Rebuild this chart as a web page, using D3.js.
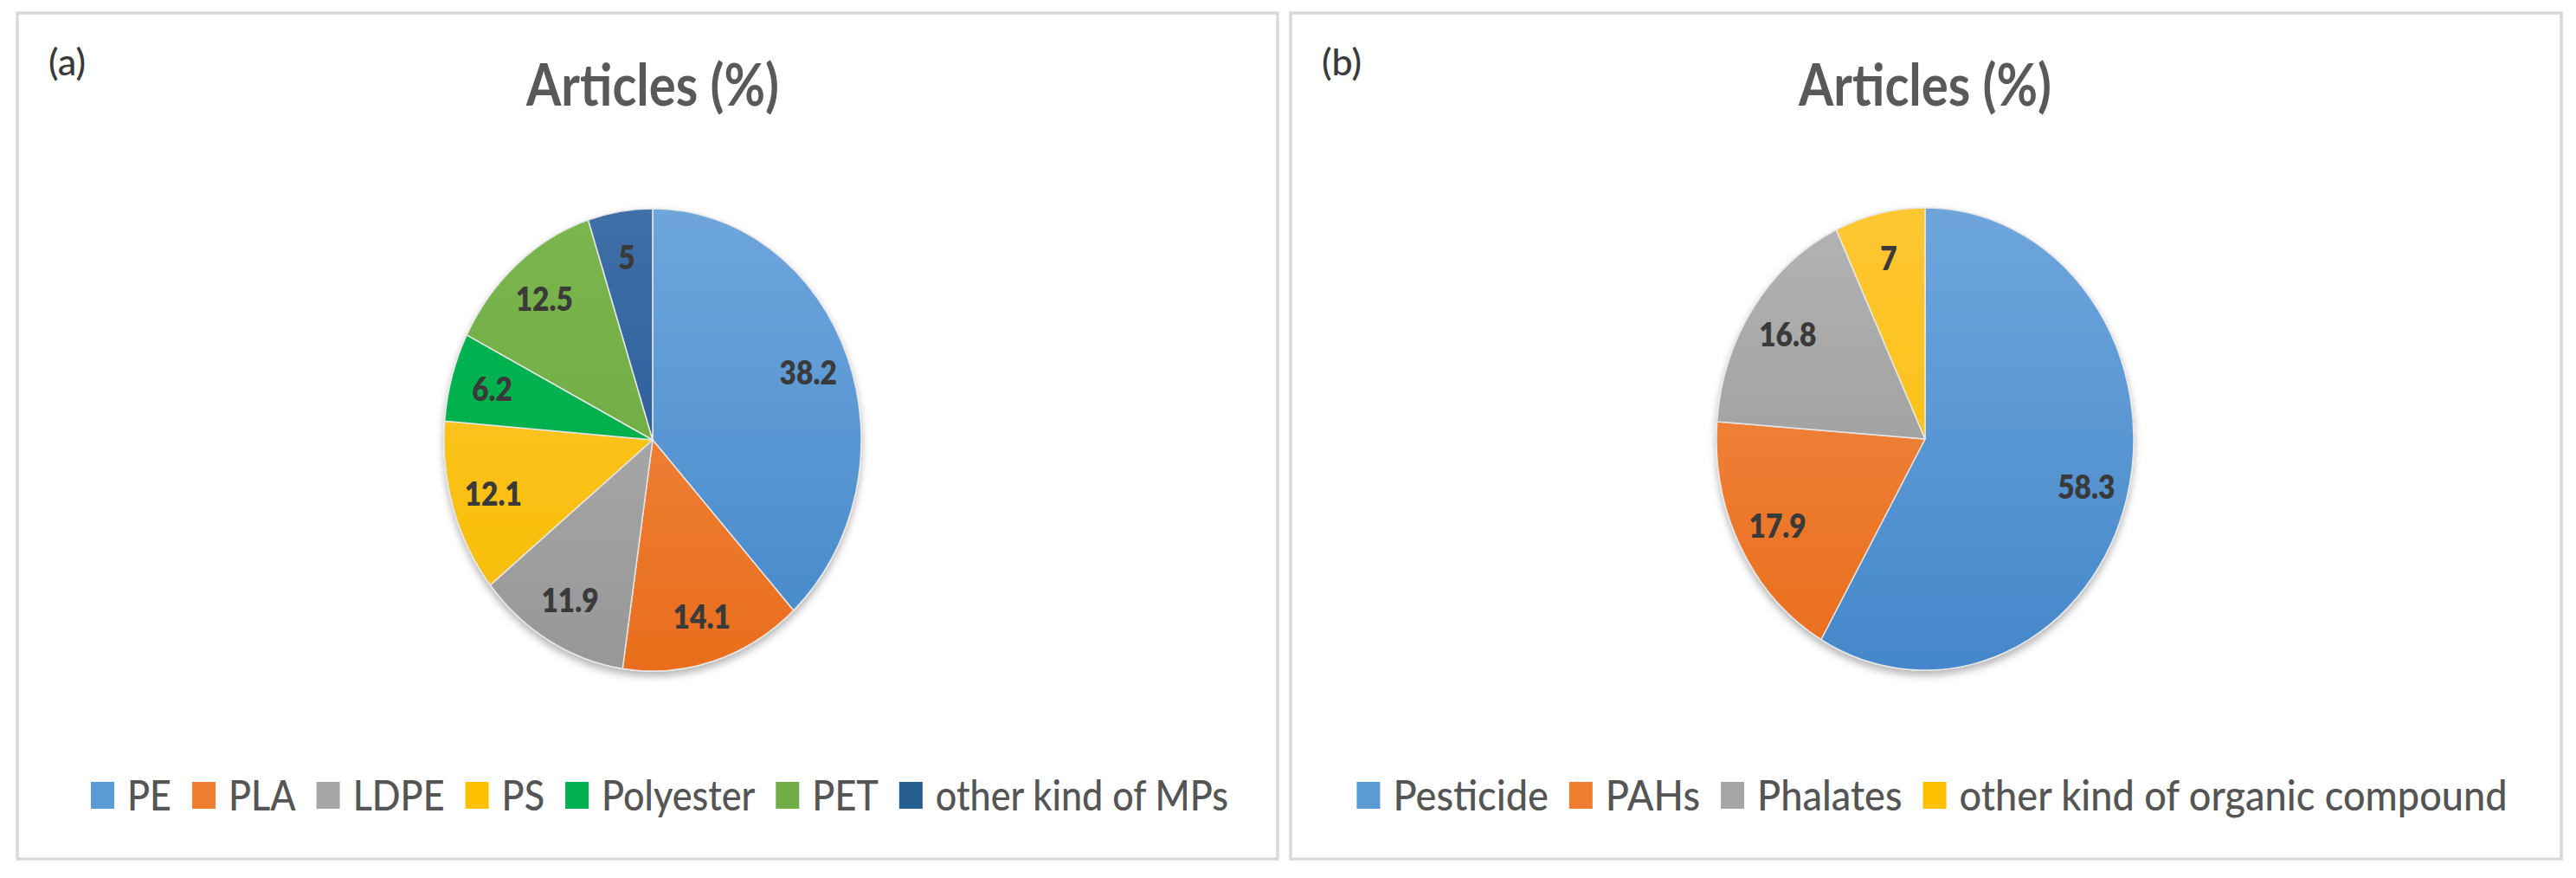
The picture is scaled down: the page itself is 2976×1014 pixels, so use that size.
<!DOCTYPE html>
<html>
<head>
<meta charset="utf-8">
<script src="https://cdn.jsdelivr.net/npm/d3@7"></script>
<style>
  html, body { margin: 0; padding: 0; background: #ffffff; }
  svg { display: block; }
</style>
</head>
<body>
<svg id="chart" width="2976" height="1014"></svg>
<script>
// ---------- data ----------
const titleText = "Articles (%)";
const panelLabels = ["(a)", "(b)"];

const categoriesA = ["PE", "PLA", "LDPE", "PS", "Polyester", "PET", "other kind of MPs"];
const valuesA = [38.2, 14.1, 11.9, 12.1, 6.2, 12.5, 5];

const categoriesB = ["Pesticide", "PAHs", "Phalates", "other kind of organic compound"];
const valuesB = [58.3, 17.9, 16.8, 7];

// colours: [top, bottom] of each slice's vertical gradient, plus legend swatch colour
const coloursA = [
  ["#6EA6DC", "#4487CA", "#5B9BD5"],
  ["#F28F4B", "#E96D1C", "#ED7D31"],
  ["#B4B4B4", "#979797", "#A5A5A5"],
  ["#FFC733", "#F7BC00", "#FFC000"],
  ["#00B550", "#00AB4C", "#00B050"],
  ["#7BB54F", "#68A83B", "#70AD47"],
  ["#3F6FA6", "#1D5495", "#255E91"]
];
const coloursB = [
  ["#6EA6DC", "#4487CA", "#5B9BD5"],
  ["#F28F4B", "#E96D1C", "#ED7D31"],
  ["#B4B4B4", "#919191", "#A5A5A5"],
  ["#FFC733", "#F7BC00", "#FFC000"]
];

// ---------- layout ----------
const panels = [
  { x: 20, y: 15, w: 1456, h: 977, cx: 754, cy: 508, cats: categoriesA, vals: valuesA, cols: coloursA, label: panelLabels[0], id: "a", legSX: 0.88 },
  { x: 1491, y: 15, w: 1468, h: 977, cx: 2224, cy: 507, cats: categoriesB, vals: valuesB, cols: coloursB, label: panelLabels[1], id: "b", legSX: 0.92 }
];
const RX = 241, RY = 267;
const labelFrac = 0.8;
const fontFam = "Lato, 'Open Sans', sans-serif";
const titleSX = 0.88;
const labelSX = 0.88;

const svg = d3.select("#chart");
const defs = svg.append("defs");

const shadow = defs.append("filter").attr("id", "pieShadow")
  .attr("x", "-20%").attr("y", "-20%").attr("width", "140%").attr("height", "140%");
shadow.append("feDropShadow").attr("dx", 0).attr("dy", 5).attr("stdDeviation", 5)
  .attr("flood-color", "#000").attr("flood-opacity", 0.3);

const pie = d3.pie().sort(null).value(d => d);
const arc = d3.arc().innerRadius(0).outerRadius(RY);
const labelArc = d3.arc().innerRadius(RY * labelFrac).outerRadius(RY * labelFrac);

panels.forEach(p => {
  const g = svg.append("g");

  // panel frame
  g.append("rect")
    .attr("x", p.x).attr("y", p.y).attr("width", p.w).attr("height", p.h)
    .attr("fill", "#ffffff").attr("stroke", "#d9d9d9").attr("stroke-width", 3.5);

  // panel label
  g.append("text")
    .attr("x", p.x + 36).attr("y", p.y + 72)
    .attr("font-family", fontFam).attr("font-size", 43).attr("font-weight", 500)
    .attr("fill", "#3a3a3a")
    .text(p.label);

  // title
  g.append("text")
    .attr("transform", `translate(${p.cx},122) scale(${titleSX},1)`)
    .attr("text-anchor", "middle")
    .attr("font-family", fontFam).attr("font-size", 66).attr("font-weight", 700)
    .attr("fill", "#595959")
    .text(titleText);

  // gradients
  p.cols.forEach((c, i) => {
    const lg = defs.append("linearGradient")
      .attr("id", `grad-${p.id}-${i}`)
      .attr("gradientUnits", "userSpaceOnUse")
      .attr("x1", 0).attr("y1", -RY).attr("x2", 0).attr("y2", RY);
    lg.append("stop").attr("offset", "0%").attr("stop-color", c[0]);
    lg.append("stop").attr("offset", "100%").attr("stop-color", c[1]);
  });

  const arcs = pie(p.vals);

  // pie
  const pg = g.append("g")
    .attr("transform", `translate(${p.cx},${p.cy}) scale(${RX / RY},1)`)
    .attr("filter", "url(#pieShadow)");
  pg.selectAll("path").data(arcs).join("path")
    .attr("d", arc)
    .attr("fill", (d, i) => `url(#grad-${p.id}-${i})`)
    .attr("stroke", "#e6e6e6")
    .attr("stroke-width", 1.5)
    .attr("vector-effect", "non-scaling-stroke")
    .attr("stroke-linejoin", "round");

  // data labels
  g.selectAll("text.dl").data(arcs).join("text")
    .attr("class", "dl")
    .attr("transform", d => {
      const [lx, ly] = labelArc.centroid(d);
      return `translate(${p.cx + lx * RX / RY},${p.cy + ly}) scale(${labelSX},1)`;
    })
    .attr("text-anchor", "middle")
    .attr("dy", "0.36em")
    .attr("font-family", fontFam).attr("font-size", 38).attr("font-weight", 800)
    .attr("fill", "#3a3a3a")
    .text(d => d.data);

  // legend
  const lgG = g.append("g");
  let xPos = 0;
  const sw = 27, swH = 31, gapSwText = 15, gapItem = 24;
  p.cats.forEach((cat, i) => {
    const it = lgG.append("g");
    it.append("rect").attr("x", xPos).attr("y", 903).attr("width", sw).attr("height", swH)
      .attr("fill", p.cols[i][2]);
    const t = it.append("text")
      .attr("font-family", fontFam).attr("font-size", 49).attr("font-weight", 500)
      .attr("fill", "#555555")
      .text(cat);
    const tx = xPos + sw + gapSwText;
    t.attr("transform", `translate(${tx},936) scale(${p.legSX},1)`);
    const tw = t.node().getComputedTextLength() * p.legSX;
    xPos = tx + tw + gapItem;
  });
  const total = xPos - gapItem;
  lgG.attr("transform", `translate(${p.cx + 8 - total / 2},0)`);
});
</script>
</body>
</html>
